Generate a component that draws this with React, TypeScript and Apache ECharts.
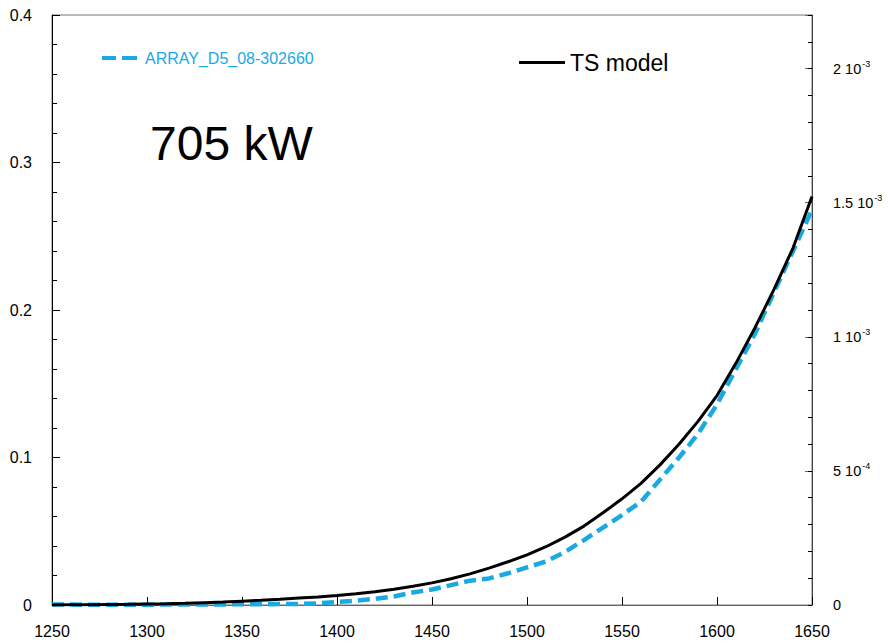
import React, { useEffect, useRef } from "react";
import * as echarts from "echarts";

const xValues = [
  1250, 1260, 1270, 1280, 1290, 1300, 1310, 1320, 1330, 1340, 1350, 1360, 1370, 1380,
  1390, 1400, 1410, 1420, 1430, 1440, 1450, 1460, 1470, 1480, 1490, 1500, 1510, 1520,
  1530, 1540, 1550, 1560, 1570, 1580, 1590, 1600, 1610, 1620, 1630, 1640, 1650,
];

const tsModel = [
  0.0, 0.0001, 0.0002, 0.0004, 0.0005, 0.0007, 0.0009, 0.0012, 0.0016, 0.002, 0.0026,
  0.0032, 0.0039, 0.0047, 0.0055, 0.0064, 0.0076, 0.009, 0.0107, 0.0127, 0.015, 0.0178,
  0.0211, 0.025, 0.0293, 0.034, 0.0395, 0.046, 0.0535, 0.0625, 0.072, 0.0825, 0.095,
  0.109, 0.1245, 0.142, 0.164, 0.188, 0.214, 0.242, 0.277,
];

const arrayD5 = [
  0.0003, 0.0003, 0.0002, 0.0002, 0.0002, 0.0002, 0.0003, 0.0003, 0.0003, 0.0004, 0.0005,
  0.0005, 0.0006, 0.0007, 0.0011, 0.002, 0.003, 0.0042, 0.0058, 0.0085, 0.0105, 0.0135,
  0.0165, 0.018, 0.0215, 0.0255, 0.0295, 0.036, 0.044, 0.0525, 0.061, 0.07, 0.085, 0.1,
  0.116, 0.136, 0.16, 0.184, 0.212, 0.24, 0.268,
];

const rightTickLabels: [number, string, string][] = [
  [0, "0", ""],
  [0.0005, "5 10", "-4"],
  [0.001, "1 10", "-3"],
  [0.0015, "1.5 10", "-3"],
  [0.002, "2 10", "-3"],
];

const SERIES_A = "ARRAY_D5_08-302660";
const SERIES_B = "TS model";
const FONT = "'Liberation Sans', Arial, Helvetica, sans-serif";
const BLUE = "#1aa9e3";

export default function App() {
  const ref = useRef<HTMLDivElement>(null);

  useEffect(() => {
    if (!ref.current) return;
    document.body.style.margin = "0";
    document.body.style.overflow = "hidden";
    const chart = echarts.init(ref.current, undefined, { renderer: "svg" });
    const rightFormatter = (v: number) => {
      const hit = rightTickLabels.find((t) => Math.abs(t[0] - v) < 1e-9);
      if (!hit) return "";
      if (!hit[2]) return `{b|${hit[1]}}`;
      return `{b|${hit[1]}}{s|${hit[2]}}`;
    };
    chart.setOption({
      animation: false,
      backgroundColor: "#fff",
      textStyle: { fontFamily: FONT },
      grid: {
        left: 52,
        right: 76,
        top: 15,
        bottom: 38,
        show: true,
        borderColor: "#777",
        borderWidth: 1,
        backgroundColor: "transparent",
      },
      legend: [
        {
          data: [
            {
              name: SERIES_A,
              icon: "path://M0,0h14v4h-14z M20,0h15v4h-15z",
            },
          ],
          left: 97,
          top: 45,
          itemWidth: 35,
          itemHeight: 4,
          itemGap: 0,
          selectedMode: false,
          textStyle: { color: BLUE, fontSize: 16, fontFamily: FONT, padding: [0, 0, 0, 3] },
        },
        {
          data: [{ name: SERIES_B, icon: "rect" }],
          left: 514,
          top: 46,
          itemWidth: 46,
          itemHeight: 3,
          selectedMode: false,
          textStyle: { color: "#000", fontSize: 23, fontFamily: FONT },
        },
      ],
      graphic: [
        {
          type: "text",
          left: 150,
          top: 119,
          style: { text: "705 kW", fontSize: 48, fill: "#000", fontFamily: FONT },
        },
      ],
      xAxis: {
        type: "value",
        min: 1250,
        max: 1650,
        interval: 50,
        axisLine: { show: true, lineStyle: { color: "#666", width: 1 } },
        axisTick: { show: true, inside: true, length: 8, lineStyle: { color: "#000" } },
        axisLabel: {
          color: "#000",
          fontSize: 16,
          margin: 18,
          fontFamily: FONT,
          formatter: (v: number) => String(v),
        },
        splitLine: { show: false },
      },
      yAxis: [
        {
          type: "value",
          min: 0,
          max: 0.4,
          interval: 0.1,
          position: "left",
          axisLine: { show: true, lineStyle: { color: "#000", width: 1 } },
          axisTick: { show: true, inside: true, length: 8, lineStyle: { color: "#000" } },
          minorTick: { show: true, splitNumber: 5, length: 5, lineStyle: { color: "#000" } },
          axisLabel: { color: "#000", fontSize: 16, margin: 20, fontFamily: FONT },
          splitLine: { show: false },
        },
        {
          type: "value",
          min: 0,
          max: 0.0022,
          interval: 0.0005,
          position: "right",
          axisLine: { show: true, lineStyle: { color: "#444", width: 1 } },
          axisTick: { show: true, inside: true, length: 7, lineStyle: { color: "#666" } },
          axisLabel: {
            color: "#000",
            margin: 21,
            fontFamily: FONT,
            formatter: rightFormatter,
            rich: {
              b: { fontSize: 14.5, fontFamily: FONT, color: "#000", lineHeight: 18 },
              s: {
                fontSize: 9,
                fontFamily: FONT,
                color: "#000",
                lineHeight: 18,
                verticalAlign: "top",
                padding: [0, 0, 6, 1],
              },
            },
          },
          splitLine: { show: false },
        },
        {
          type: "value",
          min: 0,
          max: 0.0022,
          interval: 0.0001,
          position: "right",
          axisLine: { show: false },
          axisTick: { show: true, inside: true, length: 4, lineStyle: { color: "#000" } },
          axisLabel: { show: false },
          splitLine: { show: false },
        },
      ],
      series: [
        {
          name: SERIES_A,
          type: "line",
          yAxisIndex: 0,
          data: xValues.map((x, i) => [x, arrayD5[i]]),
          symbol: "none",
          showSymbol: false,
          z: 2,
          itemStyle: { color: BLUE },
          lineStyle: { color: BLUE, width: 4.5, type: [12, 6] },
        },
        {
          name: SERIES_B,
          type: "line",
          yAxisIndex: 0,
          data: xValues.map((x, i) => [x, tsModel[i]]),
          symbol: "none",
          showSymbol: false,
          z: 3,
          itemStyle: { color: "#000" },
          lineStyle: { color: "#000", width: 3 },
        },
      ],
    });
    return () => chart.dispose();
  }, []);

  return (
    <div
      ref={ref}
      style={{ position: "absolute", left: 0, top: 0, width: 888, height: 643 }}
    />
  );
}
